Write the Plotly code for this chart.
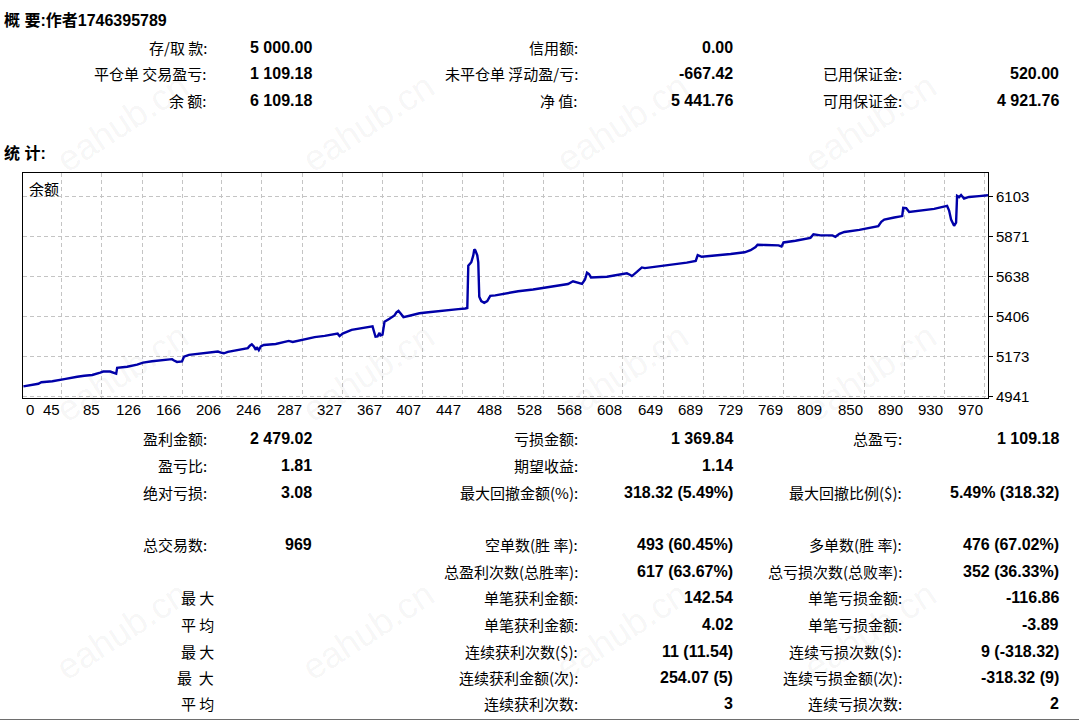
import plotly.graph_objects as go

# ---------------- data ----------------
title_text = "概 要:作者1746395789"
stats_title = "统 计:"

summary_labels_1 = ["存/取 款:", "平仓单 交易盈亏:", "余 额:"]
summary_values_1 = ["5 000.00", "1 109.18", "6 109.18"]
summary_labels_2 = ["信用额:", "未平仓单 浮动盈/亏:", "净 值:"]
summary_values_2 = ["0.00", "-667.42", "5 441.76"]
summary_labels_3 = ["", "已用保证金:", "可用保证金:"]
summary_values_3 = ["", "520.00", "4 921.76"]

stats_labels_1 = ["盈利金额:", "盈亏比:", "绝对亏损:", "", "总交易数:", "", "最 大", "平 均", "最 大", "最  大", "平 均"]
stats_values_1 = ["2 479.02", "1.81", "3.08", "", "969", "", "", "", "", "", ""]
stats_labels_2 = ["亏损金额:", "期望收益:", "最大回撤金额(%):", "", "空单数(胜 率):", "总盈利次数(总胜率):",
                  "单笔获利金额:", "单笔获利金额:", "连续获利次数($):", "连续获利金额(次):", "连续获利次数:"]
stats_values_2 = ["1 369.84", "1.14", "318.32 (5.49%)", "", "493 (60.45%)", "617 (63.67%)",
                  "142.54", "4.02", "11 (11.54)", "254.07 (5)", "3"]
stats_labels_3 = ["总盈亏:", "", "最大回撤比例($):", "", "多单数(胜 率):", "总亏损次数(总败率):",
                  "单笔亏损金额:", "单笔亏损金额:", "连续亏损次数($):", "连续亏损金额(次):", "连续亏损次数:"]
stats_values_3 = ["1 109.18", "", "5.49% (318.32)", "", "476 (67.02%)", "352 (36.33%)",
                  "-116.86", "-3.89", "9 (-318.32)", "-318.32 (9)", "2"]

chart_label = "余额"
x_tick_labels = [0, 45, 85, 126, 166, 206, 246, 287, 327, 367, 407, 447, 488, 528, 568,
                 608, 649, 689, 729, 769, 809, 850, 890, 930, 970]
y_tick_labels = [4941, 5173, 5406, 5638, 5871, 6103]

balance_trade = [7, 12, 22, 25, 36, 48, 54, 61, 68, 76,
                 84, 87, 94, 97, 100, 101, 111, 121, 127, 136,
                 146, 154, 156, 158, 161, 166, 168, 173, 185, 202,
                 205, 208, 212, 225, 232, 234, 236, 238, 240, 241,
                 243, 245, 248, 260, 273, 277, 289, 299, 309, 322,
                 324, 327, 336, 344, 354, 357, 360, 362, 364, 365,
                 367, 369, 374, 379, 381, 383, 385, 388, 394, 404,
                 413, 424, 433, 443, 450, 452, 453, 456, 458, 459,
                 460, 462, 463, 464, 466, 469, 472, 475, 480, 490,
                 503, 518, 529, 543, 553, 558, 562, 565, 567, 570,
                 572, 574, 576, 592, 602, 612, 615, 617, 622, 627,
                 630, 642, 661, 672, 681, 683, 687, 701, 716, 730,
                 736, 741, 743, 751, 764, 767, 769, 781, 796, 799,
                 806, 818, 821, 825, 830, 845, 855, 864, 867, 870,
                 880, 888, 889, 892, 895, 905, 920, 933, 935, 937,
                 940, 942, 943, 945, 947, 950, 953, 955, 965, 974]
balance_value = [5000, 5006, 5015, 5024, 5030, 5042, 5050, 5056, 5062, 5066,
                 5080, 5086, 5086, 5080, 5074, 5108, 5114, 5126, 5138, 5146,
                 5152, 5160, 5158, 5150, 5142, 5145, 5172, 5183, 5190, 5202,
                 5196, 5192, 5200, 5212, 5222, 5236, 5244, 5232, 5212, 5228,
                 5210, 5232, 5240, 5246, 5264, 5258, 5272, 5286, 5293, 5306,
                 5292, 5306, 5328, 5336, 5348, 5348, 5288, 5290, 5310, 5296,
                 5300, 5375, 5392, 5412, 5430, 5438, 5424, 5402, 5410, 5424,
                 5430, 5438, 5442, 5448, 5452, 5455, 5700, 5720, 5760, 5795,
                 5790, 5760, 5720, 5520, 5495, 5485, 5495, 5525, 5528, 5540,
                 5552, 5562, 5572, 5582, 5594, 5610, 5605, 5598, 5595, 5620,
                 5660, 5652, 5632, 5636, 5644, 5656, 5648, 5640, 5664, 5690,
                 5686, 5694, 5708, 5718, 5728, 5762, 5752, 5758, 5768, 5778,
                 5790, 5808, 5822, 5820, 5818, 5812, 5835, 5845, 5862, 5882,
                 5876, 5876, 5868, 5885, 5896, 5908, 5920, 5930, 5955, 5968,
                 5980, 5988, 6036, 6034, 6012, 6018, 6030, 6047, 6020, 5968,
                 5932, 5950, 6105, 6098, 6110, 6090, 6094, 6099, 6104, 6109]

watermark = "eahub.cn"

# ---------------- layout helpers ----------------
W, H = 1079, 720
HE = 712  # effective rendered height observed in the photographed page


def fx(px):
    return px / W


def fy(py):
    return 1 - py / HE


CJK = "Noto Sans CJK SC"
NUM = "Liberation Sans"

fig = go.Figure()
fig.add_trace(go.Scatter(x=balance_trade, y=balance_value, mode="lines",
                         line=dict(color="#0000a8", width=2.4),
                         hoverinfo="skip", showlegend=False))

grid = dict(showgrid=True, gridcolor="#c4c4c4", gridwidth=1, griddash="4px,3px",
            showline=True, linecolor="#000000", linewidth=1, mirror=True, zeroline=False)

fig.update_layout(
    width=W, height=H, margin=dict(l=0, r=0, t=0, b=0),
    paper_bgcolor="white", plot_bgcolor="white", showlegend=False,
    xaxis=dict(domain=[fx(23), fx(988)], range=[6.6, 974], tickvals=x_tick_labels,
               showticklabels=False, ticks="", **grid),
    yaxis=dict(domain=[fy(397), fy(173)], range=[4935.2, 6236.6], side="right",
               tickvals=y_tick_labels, ticktext=[str(v) for v in y_tick_labels],
               ticks="outside", ticklen=4, tickcolor="#000000",
               tickfont=dict(family=NUM, size=15, color="#000000"), **grid),
)


def txt(x, y, s, anchor="right", bold=False, family=CJK, size=15, color="#000000"):
    if not s:
        return
    fig.add_annotation(xref="paper", yref="paper", x=fx(x), y=fy(y), text=s,
                       showarrow=False, xanchor=anchor, yanchor="middle",
                       font=dict(family=family, size=size, color=color,
                                 weight="bold" if bold else "normal"))


# watermarks (drawn first, faint)
for wy in [122, 372, 630]:
    for wx in [122, 368, 622, 870]:
        fig.add_annotation(xref="paper", yref="paper", x=fx(wx), y=fy(wy), text=watermark,
                           showarrow=False, xanchor="center", yanchor="middle", textangle=-33,
                           font=dict(family="Liberation Sans", size=36, color="rgba(0,0,0,0.05)"))

# headers
txt(2, 20, title_text, anchor="left", bold=True, family=NUM + ", " + CJK, size=16)
txt(2, 153, stats_title, anchor="left", bold=True, family=NUM + ", " + CJK, size=16)

# summary block
sum_rows = [47, 73, 100]
for i, ry in enumerate(sum_rows):
    txt(209, ry, summary_labels_1[i])
    txt(314, ry, summary_values_1[i], bold=True, family=NUM, size=16)
    txt(580, ry, summary_labels_2[i])
    txt(735, ry, summary_values_2[i], bold=True, family=NUM, size=16)
    txt(904, ry, summary_labels_3[i])
    txt(1061, ry, summary_values_3[i], bold=True, family=NUM, size=16)

# stats block
stat_rows = [438, 465, 492, 518, 544, 571, 597, 624, 651, 677, 703]
for i, ry in enumerate(stat_rows):
    lab = stats_labels_1[i]
    if i >= 6:
        txt(216, ry, lab)
    else:
        txt(209, ry, lab)
    txt(314, ry, stats_values_1[i], bold=True, family=NUM, size=16)
    txt(580, ry, stats_labels_2[i])
    txt(735, ry, stats_values_2[i], bold=True, family=NUM, size=16)
    txt(904, ry, stats_labels_3[i])
    txt(1061, ry, stats_values_3[i], bold=True, family=NUM, size=16)

# chart label
txt(27, 188, chart_label, anchor="left", size=15)

# x tick labels (right aligned at their grid lines, MT4 style)
for v in x_tick_labels:
    if v < 6.6:
        txt(24, 409, str(v), anchor="left", family=NUM, size=15)
    else:
        fig.add_annotation(xref="x", yref="paper", x=v, y=fy(409), text=str(v), showarrow=False,
                           xanchor="right", yanchor="middle", xshift=1,
                           font=dict(family=NUM, size=15, color="#000000"))

# bottom separator line
fig.add_shape(type="line", xref="paper", yref="paper", x0=0, x1=1, y0=fy(719), y1=fy(719),
              line=dict(color="#6e6e6e", width=2))

page_fix = (
    "var de=document.documentElement, b=document.body;"
    "de.style.margin='0'; de.style.padding='0'; de.style.overflow='hidden';"
    "b.style.margin='0'; b.style.padding='0'; b.style.overflow='hidden';"
)
fig.write_html("out.html", config={"displayModeBar": False}, post_script=page_fix)
